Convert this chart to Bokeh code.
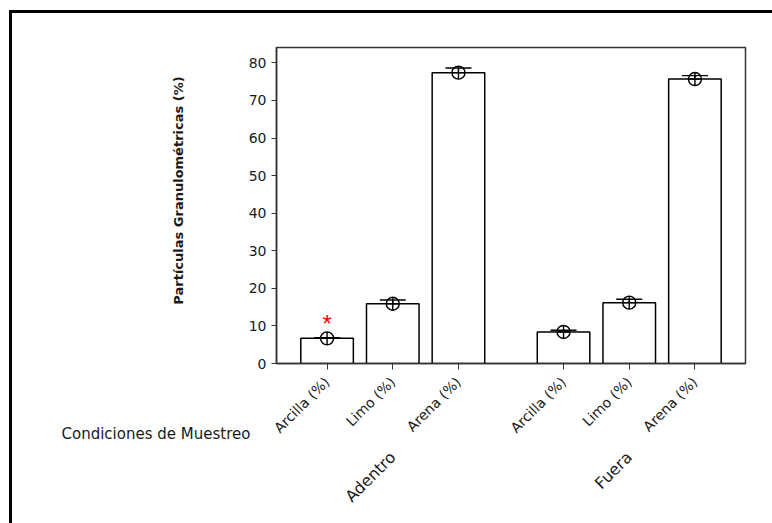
import math
from bokeh.plotting import figure
from bokeh.models import (FactorRange, ColumnDataSource, Whisker, TeeHead, Label,
                          FixedTicker)
from bokeh.embed import file_html
from bokeh.resources import INLINE

# ---- data ----
groups = ["Adentro", "Adentro", "Adentro", "Fuera", "Fuera", "Fuera"]
components = ["Arcilla (%)", "Limo (%)", "Arena (%)", "Arcilla (%)", "Limo (%)", "Arena (%)"]
means = [6.7, 15.9, 77.4, 8.4, 16.2, 75.7]
errors = [0.15, 1.0, 1.25, 0.45, 0.9, 0.9]
y_ticks = [0, 10, 20, 30, 40, 50, 60, 70, 80]
star_group = "Adentro"
star_component = "Arcilla (%)"
star_y = [10.6]
y_title = "Partículas Granulométricas (%)"
x_title = "Condiciones de Muestreo"

factors = list(zip(groups, components))
src = ColumnDataSource(dict(
    x=factors, top=means,
    upper=[m + e for m, e in zip(means, errors)],
    lower=[m - e for m, e in zip(means, errors)],
))

FONT = "DejaVu Sans"
TXT = "#1a1a1a"

p = figure(
    x_range=FactorRange(*factors, group_padding=0.6, range_padding=0.27,
                        range_padding_units="absolute"),
    y_range=(0, 84.1),
    width=772, height=523, output_backend="svg", toolbar_location=None,
    min_border_left=276, min_border_right=27, min_border_top=47, min_border_bottom=160,
)

p.vbar(x="x", top="top", width=0.8, source=src, fill_color="white",
       line_color="black", line_width=1.5)

p.add_layout(Whisker(base="x", upper="upper", lower="lower", source=src,
                     line_color="black", line_width=1.3,
                     upper_head=TeeHead(size=26, line_color="black", line_width=1.3),
                     lower_head=TeeHead(size=26, line_color="black", line_width=1.3)))

p.scatter(x="x", y="top", source=src, marker="circle_cross", size=13,
          fill_color=None, line_color="black", line_width=1.4)

p.text(x=[(star_group, star_component)], y=star_y, text=["*"], text_color="red",
       text_align="center", text_baseline="middle", text_font_size="24px")

# general styling
p.xgrid.visible = False
p.ygrid.visible = False
p.outline_line_color = "#333333"
p.outline_line_width = 1.5
p.background_fill_color = "white"
p.border_fill_color = None
# outer frame lines of the picture (left and top edges)
p.styles = {
    "background-color": "white",
    "background-image": "linear-gradient(#000, #000), linear-gradient(#000, #000)",
    "background-size": "3px 100%, 100% 3px",
    "background-position": "9px 10px, 9px 10px",
    "background-repeat": "no-repeat",
}

ya = p.yaxis[0]
ya.ticker = FixedTicker(ticks=y_ticks)
ya.major_tick_in = 0
ya.major_tick_out = 5
ya.minor_tick_line_color = None
ya.axis_line_color = "#333333"
ya.axis_line_width = 1.5
ya.major_tick_line_color = "#333333"
ya.major_label_text_font = FONT
ya.major_label_text_font_size = "14px"
ya.major_label_text_color = TXT

xa = p.xaxis[0]
xa.major_tick_in = 0
xa.major_tick_out = 6
xa.axis_line_color = "#333333"
xa.axis_line_width = 1.5
xa.major_tick_line_color = "#333333"
xa.major_label_orientation = math.pi / 4
xa.major_label_standoff = 10
xa.major_label_text_font = FONT
xa.major_label_text_font_size = "14px"
xa.major_label_text_color = TXT
xa.group_label_orientation = math.pi / 4
xa.group_text_font = FONT
xa.group_text_font_size = "16px"
xa.group_text_font_style = "normal"
xa.group_text_color = TXT
xa.separator_line_alpha = 0

p.add_layout(Label(x=178, y=190, x_units="canvas", y_units="canvas",
                   text=y_title, angle=math.pi / 2, text_font=FONT,
                   text_font_style="bold", text_font_size="13px", text_color=TXT,
                   text_align="center", text_baseline="middle"), "left")

p.add_layout(Label(x=61, y=433, x_units="canvas", y_units="canvas",
                   text=x_title, text_font=FONT,
                   text_font_size="15px", text_color=TXT,
                   text_baseline="middle"), "above")

open("out.html", "w").write(file_html(p, INLINE))
